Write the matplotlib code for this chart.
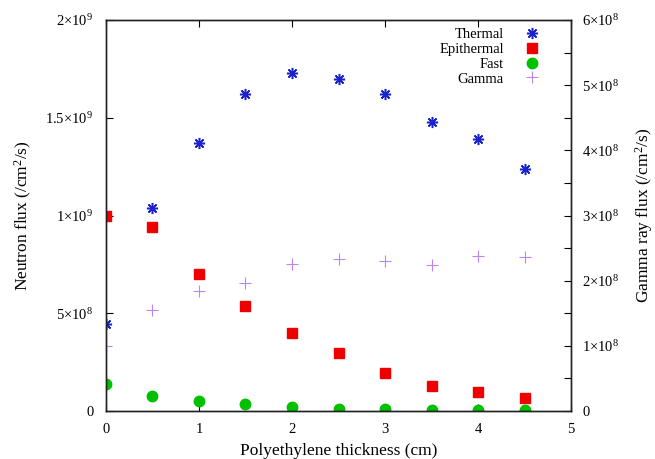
import numpy as np
import matplotlib
matplotlib.use('Agg')
import matplotlib.pyplot as plt
from matplotlib.ticker import FixedLocator, MultipleLocator

plt.rcParams['font.family'] = ['Liberation Serif', 'DejaVu Serif']
plt.rcParams['mathtext.fontset'] = 'custom'
plt.rcParams['mathtext.rm'] = 'Liberation Serif'
plt.rcParams['mathtext.it'] = 'Liberation Serif:italic'

# polyethylene thickness (cm)
thickness = [0, 0.5, 1, 1.5, 2, 2.5, 3, 3.5, 4, 4.5]

# neutron flux (/cm^2/s)
thermal = [4.45e8, 1.04e9, 1.37e9, 1.62e9, 1.73e9, 1.70e9, 1.62e9, 1.48e9, 1.39e9, 1.24e9]
epithermal = [1.0e9, 9.4e8, 7.0e8, 5.35e8, 4.0e8, 2.95e8, 1.95e8, 1.3e8, 9.5e7, 6.5e7]
fast = [1.36e8, 7.5e7, 5.0e7, 3.4e7, 2.2e7, 1.2e7, 8e6, 6e6, 4e6, 3e6]

# gamma ray flux (/cm^2/s), right axis
gamma = [1.0e8, 1.55e8, 1.84e8, 1.96e8, 2.25e8, 2.33e8, 2.30e8, 2.24e8, 2.38e8, 2.36e8]

left_ticks = [0, 5e8, 1e9, 1.5e9, 2e9]
left_labels = ['0', '5×10$^{8}$', '1×10$^{9}$', '1.5×10$^{9}$', '2×10$^{9}$']
right_ticks = [0, 1e8, 2e8, 3e8, 4e8, 5e8, 6e8]
right_labels = ['0'] + ['%d×10$^{8}$' % k for k in range(1, 7)]

fig = plt.figure(figsize=(6.55, 4.59), dpi=100)
ax = fig.add_axes([0.1618, 0.1046, 0.7100, 0.8518])
ax2 = ax.twinx()

h1, = ax.plot(thickness, thermal, linestyle='none', marker=(8, 2, 0),
              markersize=8, markeredgewidth=1.1, color='#1a22cc', label='Thermal')
h2, = ax.plot(thickness, epithermal, linestyle='none', marker='s',
              markersize=7, color='#ee0000', label='Epithermal')
h3, = ax.plot(thickness, fast, linestyle='none', marker='o',
              markersize=7.5, color='#00c000', label='Fast')
h4, = ax2.plot(thickness, gamma, linestyle='none', marker='+',
               markersize=9, markeredgewidth=0.8, color='#bb85f2', label='Gamma')

ax.set_xlim(0, 5)
ax.set_ylim(0, 2e9)
ax2.set_ylim(0, 6e8)

ax.xaxis.set_major_locator(MultipleLocator(1))
ax.yaxis.set_major_locator(FixedLocator(left_ticks))
ax.set_yticklabels(left_labels)
ax2.yaxis.set_major_locator(FixedLocator(right_ticks))
ax2.set_yticklabels(right_labels)
ax2.yaxis.set_minor_locator(MultipleLocator(5e7))

ax.tick_params(axis='x', direction='in', top=True, length=5, width=0.8,
               labelsize=10.5, pad=9)
ax.tick_params(axis='y', direction='in', right=False, length=5, width=0.8,
               labelsize=10.5, pad=9)
ax2.tick_params(axis='y', which='both', direction='in', length=5, width=0.8,
                labelsize=10.5, pad=8)

for a in (ax, ax2):
    for s in a.spines.values():
        s.set_linewidth(1.0)
        s.set_color('#222222')

ax.set_xlabel('Polyethylene thickness (cm)', fontsize=12.5, labelpad=5)
ax.set_ylabel('Neutron flux (/cm$^{2}$/s)', fontsize=12.5, labelpad=8)
ax2.set_ylabel('Gamma ray flux (/cm$^{2}$/s)', fontsize=12.5, labelpad=10,
               rotation=90)

ax2.legend(handles=[h1, h2, h3, h4], loc='upper right', bbox_to_anchor=(0.953, 1.007),
           markerfirst=False, frameon=False, fontsize=10.5, handlelength=1.0,
           handletextpad=1.4, labelspacing=0.12, borderaxespad=0.3)

fig.savefig('out.png', dpi=100)
